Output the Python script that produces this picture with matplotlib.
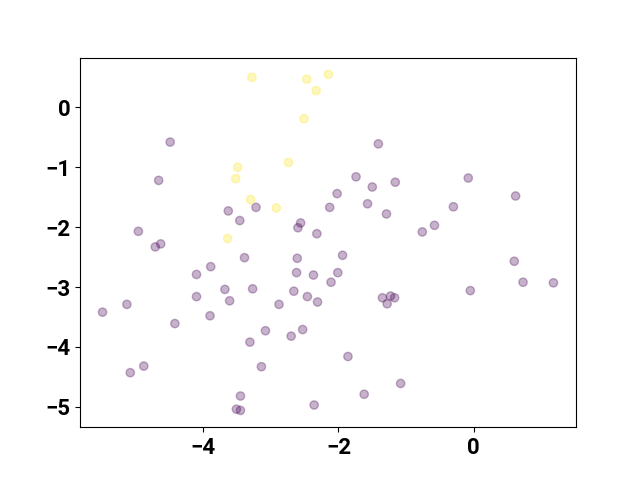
import numpy as np
import matplotlib
matplotlib.use('Agg')
import matplotlib.pyplot as plt

plt.rcParams['font.family'] = ['Roboto', 'DejaVu Sans']
plt.rcParams['font.weight'] = 'bold'

# class 0 points (purple)
x0 = [-4.49, -4.66, -3.63, -3.46, -4.96, -4.63, -4.71, -1.41, -1.74, -1.50,
      -1.16, -2.02, -3.22, -2.13, -1.57, -1.29, -2.56, -2.60, -2.32, -0.08,
      0.62, -0.30, -0.58, -0.76, -3.39, -3.89, -4.10, -3.68, -4.10, -3.61,
      -5.13, -5.49, -3.90, -4.42, -3.27, -3.31, -4.88, -5.08, -3.45, -3.51,
      -3.45, -2.61, -1.94, -2.62, -2.37, -2.01, -2.11, -2.66, -2.46, -2.31,
      -2.88, -1.35, -1.23, -1.17, -1.28, -3.08, -2.53, -2.70, -1.86, -3.14,
      -1.08, -1.62, -2.36, 0.60, -0.05, 0.73, 1.18]
y0 = [-0.58, -1.22, -1.73, -1.89, -2.07, -2.28, -2.33, -0.61, -1.16, -1.33,
      -1.25, -1.44, -1.67, -1.67, -1.61, -1.78, -1.93, -2.01, -2.11, -1.18,
      -1.48, -1.66, -1.97, -2.08, -2.51, -2.66, -2.79, -3.04, -3.16, -3.23,
      -3.29, -3.42, -3.48, -3.61, -3.03, -3.92, -4.32, -4.43, -4.82, -5.04,
      -5.06, -2.52, -2.47, -2.76, -2.80, -2.76, -2.92, -3.07, -3.16, -3.25,
      -3.29, -3.18, -3.15, -3.18, -3.28, -3.73, -3.71, -3.82, -4.16, -4.33,
      -4.61, -4.79, -4.97, -2.57, -3.06, -2.92, -2.93]

# class 1 points (yellow)
x1 = [-3.28, -2.47, -2.15, -2.33, -2.51, -2.74, -3.49, -3.52, -3.30, -2.92, -3.64]
y1 = [0.50, 0.47, 0.55, 0.28, -0.19, -0.92, -1.00, -1.19, -1.54, -1.68, -2.19]

x = np.array(x0 + x1)
y = np.array(y0 + y1)
labels = np.array([0] * len(x0) + [1] * len(x1))

fig, ax = plt.subplots(figsize=(6.4, 4.8), dpi=100)
ax.scatter(x, y, c=labels, cmap='viridis', alpha=0.3)
ax.tick_params(labelsize=16)

plt.savefig('out.png')
